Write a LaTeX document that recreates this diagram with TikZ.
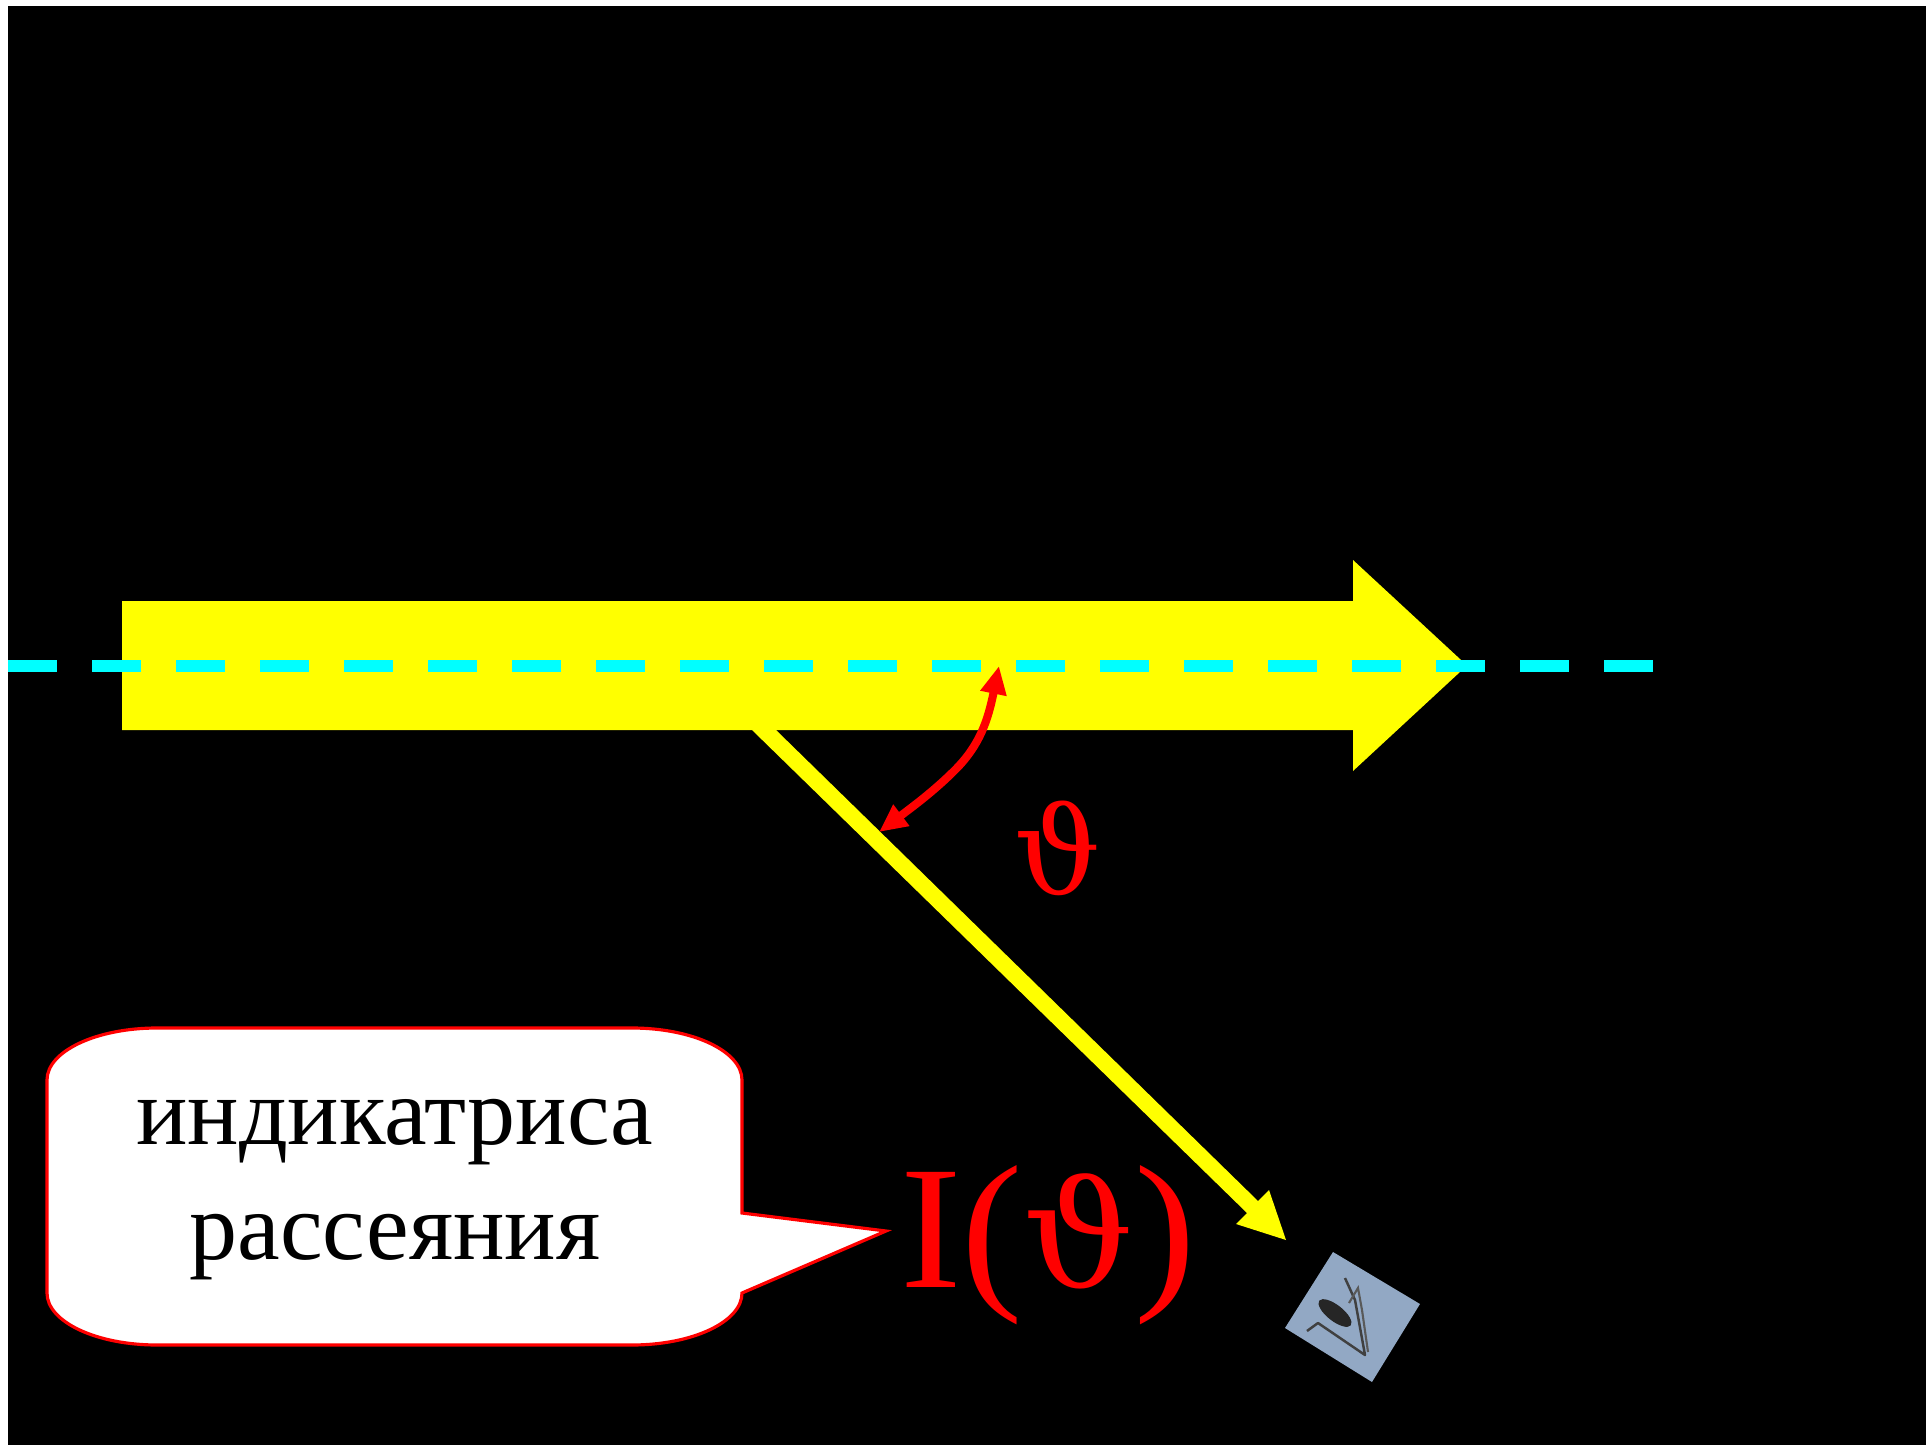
\documentclass[tikz,border=0pt]{standalone}
\usepackage{fontspec}
\setmainfont{Liberation Serif}
\newfontfamily\thetafont{DejaVu Serif}
\usetikzlibrary{arrows.meta}
\definecolor{beamyellow}{RGB}{255,255,0}
\definecolor{beamcyan}{RGB}{0,255,255}
\definecolor{markred}{RGB}{255,0,0}
\definecolor{eyeblue}{RGB}{146,168,196}
\begin{document}
\begin{tikzpicture}[x=0.01cm, y=-0.01cm, line width=0.6pt]
  \useasboundingbox (0,0) rectangle (1926,1445);
  \fill[white] (0,0) rectangle (1926,1445);
  \fill[black] (8,6) rectangle (1926,1445);
  % широкий пучок
  \fill[beamyellow] (122,601) -- (1353,601) -- (1353,560) -- (1467,665.5) -- (1353,771) -- (1353,730) -- (122,730) -- cycle;
  % ось
  \foreach \k in {0,...,19} {
    \fill[beamcyan] (8+84*\k,660) rectangle (57+84*\k,672);
  }
  % рассеянный луч
  \fill[beamyellow] (752,730) -- (776,730) -- (1258,1201) -- (1269,1190) -- (1286,1240) -- (1236,1224) -- (1247,1213) -- cycle;
  % угол
  \coordinate (T1) at (999,666); \coordinate (T2) at (879,832);
  \draw[markred, line width=2.3pt, {Triangle[length=0.28cm, width=0.25cm]}-{Triangle[length=0.28cm, width=0.25cm]}] (T1) .. controls (988,720) and (980,745) .. (955,770) .. controls (935,790) and (915,805) .. (T2);
  \node[markred, font=\fontsize{34.5}{34.5}\selectfont\thetafont, inner sep=0pt] (angle) at (1058,848) {ϑ};
  % выноска
  \draw[markred, line width=0.9pt, fill=white] (47,1080) arc[start angle=180, end angle=270, x radius=110, y radius=52] -- (632,1028) arc[start angle=270, end angle=360, x radius=110, y radius=52] -- (742,1213) -- (886,1231) -- (742,1293) arc[start angle=0, end angle=90, x radius=110, y radius=52] -- (157,1345) arc[start angle=90, end angle=180, x radius=110, y radius=52] -- cycle;
  \node[align=center, font=\fontsize{27.3}{32.7}\selectfont, inner sep=0pt] (label) at (395,1190) {индикатриса\\рассеяния};
  \node[markred, font=\fontsize{50}{50}\selectfont, inner sep=0pt, xscale=1.05] (formula) at (1048,1245) {I({\thetafont\fontsize{42}{42}\selectfont ϑ})};
  % глаз
  \fill[eyeblue] (1333,1252) -- (1420,1304) -- (1372,1382) -- (1285,1328) -- cycle;
  \draw[black!75, line width=0.7pt, line join=round] (1307,1331) -- (1318,1323) -- (1365,1355) -- (1355,1300) -- (1345,1278);
  \draw[black!65, line width=0.6pt] (1349,1303) -- (1358,1288) -- (1362,1310) -- (1368,1352);
  \fill[black!85, rotate around={-38:(1335,1313)}] (1335,1313) ellipse [x radius=20, y radius=8];
\end{tikzpicture}
\end{document}
